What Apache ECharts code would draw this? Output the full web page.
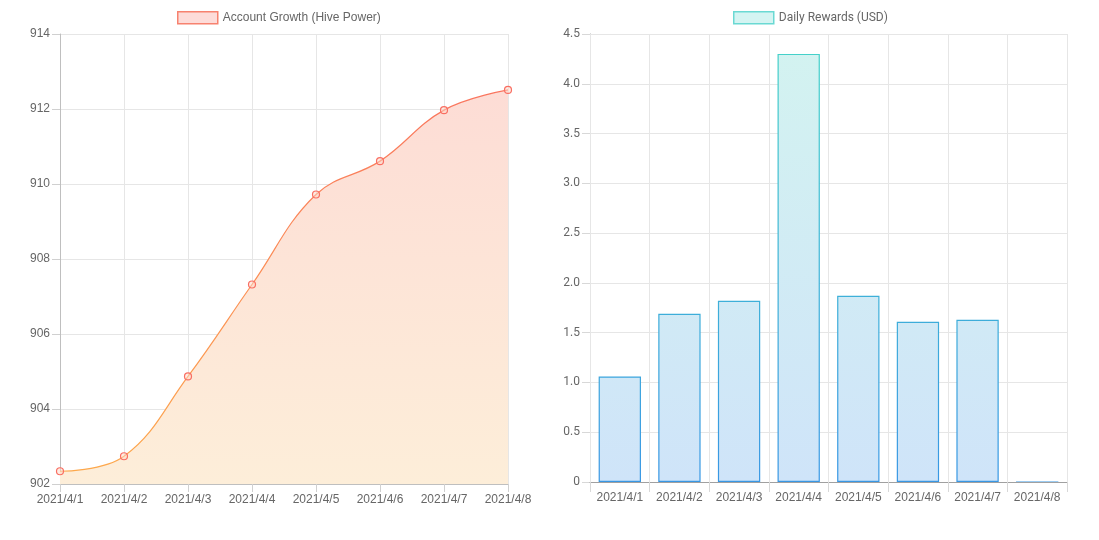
<!DOCTYPE html>
<html>
<head>
<meta charset="utf-8">
<title>Account Growth / Daily Rewards</title>
<script src="https://cdn.jsdelivr.net/npm/echarts@6/dist/echarts.min.js"></script>
<style>
  html, body { margin: 0; padding: 0; background: #fff; }
  #main { width: 1099px; height: 540px; }
</style>
</head>
<body>
<div id="main"></div>
<script>
// 数据
var dates = ['2021/4/1', '2021/4/2', '2021/4/3', '2021/4/4', '2021/4/5', '2021/4/6', '2021/4/7', '2021/4/8'];
var hivePower = [902.34, 902.74, 904.87, 907.32, 909.72, 910.61, 911.97, 912.51];
var rewards = [1.06, 1.69, 1.82, 4.30, 1.87, 1.61, 1.63, 0];

var growthName = 'Account Growth (Hive Power)';
var rewardName = 'Daily Rewards (USD)';

// 纵向渐变（按画布坐标）
function vgrad(y0, y1, top, bottom) {
  return new echarts.graphic.LinearGradient(0, y0, 0, y1, [
    { offset: 0, color: top },
    { offset: 1, color: bottom }
  ], true);
}

var lineColor = vgrad(34, 484, '#f96e62', '#fdaa4c');
var areaColor = vgrad(34, 484, '#fddad5', '#fdeed9');
var barFill = vgrad(34, 482, '#d3f3f0', '#cfe4f9');
var barBorder = vgrad(34, 482, '#45d3c8', '#3897e4');

var axisText = { color: '#666', fontSize: 12, fontFamily: 'Liberation Sans, Arial, sans-serif' };
var gridLine = { show: true, lineStyle: { color: '#e6e6e6', width: 1 } };
var axisLine = { show: true, lineStyle: { color: '#bfbfbf', width: 1 } };

function chart() {
  var myChart = echarts.init(document.getElementById('main'));
  window.addEventListener('resize', () => myChart.resize(), false);

  var option = {
    animation: false,
    legend: [
      {
        left: 172, top: 6,
        itemWidth: 40, itemHeight: 12,
        textStyle: { color: '#666', fontSize: 12, fontFamily: 'Liberation Sans, Arial, sans-serif' },
        data: [{ name: growthName, icon: 'rect',
          itemStyle: { color: '#fddcd9', borderColor: '#f7826f', borderWidth: 1.5 } }]
      },
      {
        left: 728, top: 6,
        itemWidth: 40, itemHeight: 12,
        textStyle: { color: '#666', fontSize: 12, fontFamily: 'Roboto, sans-serif' },
        data: [{ name: rewardName, icon: 'rect',
          itemStyle: { color: '#d4f4f2', borderColor: '#6ad9d3', borderWidth: 1.5 } }]
      }
    ],
    grid: [
      { left: 60, right: 591, top: 34, bottom: 56 },
      { left: 590, right: 32, top: 34, bottom: 58 }
    ],
    xAxis: [
      {
        gridIndex: 0, type: 'category', data: dates, boundaryGap: false,
        axisLine: axisLine,
        axisTick: { show: true, length: 8, interval: 0, lineStyle: { color: '#d0d0d0' } },
        axisLabel: Object.assign({ margin: 10, interval: 0 }, axisText),
        splitLine: { show: true, interval: 0, lineStyle: { color: '#e6e6e6' } }
      },
      {
        gridIndex: 1, type: 'category', data: dates, boundaryGap: true,
        z: 5,
        axisLine: { show: true, lineStyle: { color: '#a0a0a0' } },
        axisTick: { show: true, length: 10, interval: 0, lineStyle: { color: '#d8d8d8' } },
        axisLabel: Object.assign({ margin: 10, interval: 0 }, axisText),
        splitLine: { show: true, interval: 0, lineStyle: { color: '#e6e6e6' } }
      }
    ],
    yAxis: [
      {
        gridIndex: 0, type: 'value', min: 902, max: 914, interval: 2,
        axisLine: axisLine,
        axisTick: { show: true, length: 8, lineStyle: { color: '#d0d0d0' } },
        axisLabel: Object.assign({ margin: 10 }, axisText),
        splitLine: gridLine
      },
      {
        gridIndex: 1, type: 'value', min: 0, max: 4.5, interval: 0.5,
        axisLine: { show: true, lineStyle: { color: '#a0a0a0' } },
        axisTick: { show: true, length: 8, lineStyle: { color: '#d8d8d8' } },
        axisLabel: Object.assign({ margin: 10,
          formatter: function (v) { return v === 0 ? '0' : v.toFixed(1); } },
          axisText, { fontFamily: 'Roboto, sans-serif' }),
        splitLine: gridLine
      }
    ],
    series: [
      {
        name: growthName, type: 'line',
        xAxisIndex: 0, yAxisIndex: 0,
        data: hivePower,
        smooth: 0.4,
        symbol: 'circle', symbolSize: 7,
        showAllSymbol: true,
        lineStyle: { color: lineColor, width: 1.2 },
        itemStyle: { color: 'rgba(253,215,200,0.5)', borderColor: lineColor, borderWidth: 1.2 },
        areaStyle: { color: areaColor, opacity: 1 },
        z: 3
      },
      {
        name: rewardName, type: 'bar',
        xAxisIndex: 1, yAxisIndex: 1,
        data: rewards,
        barWidth: '71%',
        itemStyle: { color: barFill, borderColor: barBorder, borderWidth: 1.2 }
      }
    ]
  };
  myChart.setOption(option);
}

window.onload = function () {
  chart();
};
</script>
</body>
</html>
